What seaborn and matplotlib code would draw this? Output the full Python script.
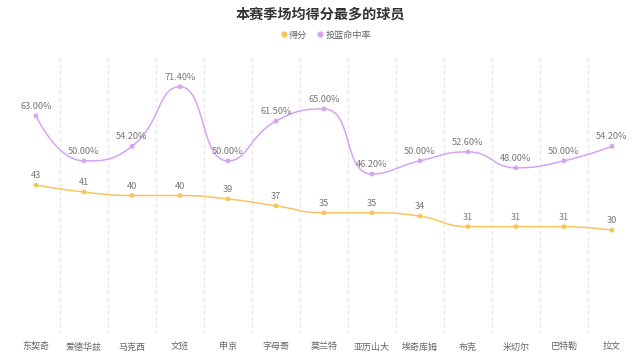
import numpy as np
import pandas as pd
import seaborn as sns
import matplotlib.pyplot as plt
from matplotlib.path import Path
from matplotlib.patches import PathPatch
from matplotlib.lines import Line2D

players = ["东契奇", "爱德华兹", "马克西", "文班", "申京", "字母哥", "莫兰特",
           "亚历山大", "埃奇库姆", "布克", "米切尔", "巴特勒", "拉文"]
points = [43, 41, 40, 40, 39, 37, 35, 35, 34, 31, 31, 31, 30]
fg_pct = [63.00, 50.00, 54.20, 71.40, 50.00, 61.50, 65.00, 46.20, 50.00, 52.60, 48.00, 50.00, 54.20]

c_pts = "#f5c65e"
c_fg = "#d7a4f2"

sns.set_theme(style="white")
plt.rcParams['font.family'] = ['Noto Sans CJK SC', 'DejaVu Sans']

df = pd.DataFrame({"x": np.arange(len(players)), "player": players,
                   "得分": points, "投篮命中率": fg_pct})

fig = plt.figure(figsize=(6.4, 3.55), dpi=100)
ax = fig.add_axes([12 / 640, 1 - 334 / 355, 624 / 640, 277 / 355])
ax.set_xlim(-0.5, len(players) - 0.5)
ax.set_ylim(0, 80)


def smooth_path(xs, ys, smooth=0.5, sx=48.0, sy=3.46):
    # echarts-like bezier smoothing, lengths measured in pixel-ish units
    px = np.asarray(xs, float) * sx
    py = np.asarray(ys, float) * sy
    verts = [(px[0], py[0])]
    codes = [Path.MOVETO]
    cp0x, cp0y = px[0], py[0]
    n = len(px)
    for i in range(1, n):
        x, y = px[i], py[i]
        prx, pry = px[i - 1], py[i - 1]
        if i == n - 1:
            c1x, c1y = x, y
            ncx, ncy = x, y
        else:
            nx, ny = px[i + 1], py[i + 1]
            vx, vy = nx - prx, ny - pry
            lp = np.hypot(x - prx, y - pry)
            ln = np.hypot(nx - x, ny - y)
            r = ln / (ln + lp)
            ncx = x + vx * smooth * r
            ncy = y + vy * smooth * r
            ncx = max(min(ncx, max(nx, x)), min(nx, x))
            ncy = max(min(ncy, max(ny, y)), min(ny, y))
            vx, vy = ncx - x, ncy - y
            c1x = x - vx * lp / ln
            c1y = y - vy * lp / ln
            c1x = max(min(c1x, max(prx, x)), min(prx, x))
            c1y = max(min(c1y, max(pry, y)), min(pry, y))
            vx, vy = x - c1x, y - c1y
            ncx = x + vx * ln / lp
            ncy = y + vy * ln / lp
        verts += [(cp0x, cp0y), (c1x, c1y), (x, y)]
        codes += [Path.CURVE4] * 3
        cp0x, cp0y = ncx, ncy
    verts = [(a / sx, b / sy) for a, b in verts]
    return Path(verts, codes)


for col, color in [("得分", c_pts), ("投篮命中率", c_fg)]:
    ax.add_patch(PathPatch(smooth_path(df["x"], df[col]), facecolor="none",
                           edgecolor=color, lw=1.1, zorder=2))
    sns.scatterplot(data=df, x="x", y=col, ax=ax, color=color, s=12,
                    edgecolor="none", zorder=3, legend=False)

for xi, v in zip(df["x"], points):
    ax.annotate(f"{v}", (xi, v), xytext=(0, 3.5), textcoords="offset points",
                ha="center", va="bottom", fontsize=6.6, color="#777777")
for xi, v in zip(df["x"], fg_pct):
    ax.annotate(f"{v:.2f}%", (xi, v), xytext=(0, 3.5), textcoords="offset points",
                ha="center", va="bottom", fontsize=6.6, color="#777777")

for b in np.arange(0.5, len(players) - 1, 1.0):
    ax.axvline(b, color="#e3e3e3", lw=0.8, ls=(0, (3, 3)), zorder=1)

ax.set_xticks(df["x"])
ax.set_xticklabels(players, fontsize=6.5, color="#666666")
ax.tick_params(axis="x", length=0, pad=6)
ax.set_yticks([])
ax.set_xlabel("")
ax.set_ylabel("")
for s in ax.spines.values():
    s.set_visible(False)

fig.text(0.5, 1 - 15 / 355, "本赛季场均得分最多的球员", ha="center", va="center",
         fontsize=10.2, fontweight="bold", color="#333333")

handles = [Line2D([], [], ls="none", marker="o", ms=4.5, color=c_pts, mec="none"),
           Line2D([], [], ls="none", marker="o", ms=4.5, color=c_fg, mec="none")]
fig.legend(handles, ["得分", "投篮命中率"], loc="center", bbox_to_anchor=(0.508, 1 - 35 / 355),
           ncol=2, frameon=False, fontsize=6.6, handletextpad=0.1, columnspacing=0.9,
           labelcolor="#666666", handlelength=1.0)

fig.savefig("out.png", dpi=100)
